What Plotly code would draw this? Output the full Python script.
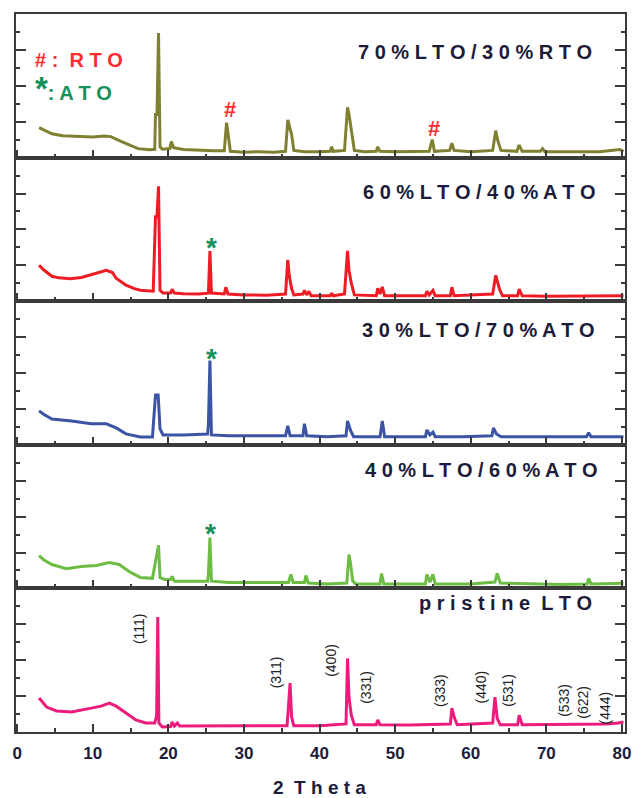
import plotly.graph_objects as go
from plotly.subplots import make_subplots

# ---------------- data ----------------
two_theta_7030 = [2.9,3.5,4.6,6,8,10,11.5,12.4,13.5,14.8,16,17.5,18.2,18.3,18.5,18.7,18.9,19.2,20.2,20.4,20.7,22,24,26,27.4,27.7,27.9,28.2,30,32,34,35.5,35.8,36.0,36.3,36.6,38,40,41.4,41.6,41.8,43.3,43.7,43.9,44.2,44.6,46,47.5,47.7,48,50,52,54.5,54.9,55.2,57.2,57.5,57.8,60,62.9,63.3,63.6,64,66.1,66.4,66.8,69.2,69.5,69.8,72,75,77,79.7,80.2]
int_7030 = [1.67,1.55,1.33,1.22,1.17,1.15,1.2,1.17,0.95,0.7,0.5,0.44,0.46,2.4,2.4,6.94,0.6,0.47,0.5,0.9,0.55,0.45,0.4,0.38,0.38,1.95,1.33,0.35,0.3,0.33,0.3,0.35,2.1,1.7,1.3,0.4,0.33,0.33,0.35,0.6,0.35,0.4,2.8,2.4,1.44,0.4,0.33,0.35,0.6,0.35,0.33,0.33,0.35,1.0,0.35,0.4,0.8,0.4,0.33,0.4,1.5,0.9,0.4,0.35,0.7,0.35,0.35,0.5,0.33,0.33,0.33,0.33,0.45,0.35]

two_theta_6040 = [2.9,3.5,4.6,5.5,7,8.5,10,11,11.8,12.6,13.1,14.4,15.5,16.3,18.0,18.3,18.5,18.7,18.9,19.3,20.3,20.5,20.8,22,24,25.3,25.5,25.7,27.4,27.6,27.9,30,33,35.5,35.8,36.0,36.3,36.6,37.8,38.0,38.3,38.6,38.9,41.4,41.6,41.8,43.3,43.7,43.9,44.2,44.6,47.5,47.7,48.0,48.3,48.6,54.0,54.2,54.5,55.0,55.3,57.3,57.5,57.8,62.9,63.3,63.5,63.8,64.2,66.2,66.4,66.8,70,75,79.5,80.2]
int_6040 = [2.0,1.75,1.39,1.3,1.25,1.32,1.5,1.6,1.72,1.6,1.28,0.89,0.7,0.61,0.56,4.7,4.7,6.4,0.6,0.45,0.45,0.67,0.45,0.42,0.4,0.45,2.8,0.45,0.4,0.78,0.4,0.35,0.33,0.4,2.3,1.4,0.7,0.35,0.4,0.6,0.35,0.55,0.3,0.3,0.45,0.3,0.4,2.8,1.7,1.0,0.35,0.3,0.72,0.4,0.8,0.3,0.3,0.55,0.35,0.6,0.3,0.3,0.78,0.3,0.4,1.44,1.17,0.67,0.3,0.3,0.67,0.3,0.28,0.28,0.28,0.3]

two_theta_3070 = [2.9,3.5,4.6,7.2,9.8,11.8,13.1,14.4,16.3,17.9,18.3,18.65,18.9,19.3,22,25.2,25.3,25.5,25.7,28,32,35.5,35.8,36.1,37.8,38.0,38.3,41,43.5,43.7,44.1,44.5,48.0,48.3,48.6,51,54.0,54.2,54.6,55.0,55.3,59,62.8,63.0,63.4,64,68,72,75.3,75.6,75.9,80.2]
int_3070 = [1.89,1.7,1.44,1.33,1.17,1.17,0.94,0.61,0.44,0.44,2.78,2.78,0.89,0.55,0.55,0.6,1.17,4.7,0.55,0.5,0.5,0.5,1.06,0.5,0.5,1.17,0.5,0.45,0.5,1.33,0.8,0.45,0.45,1.33,0.45,0.45,0.45,0.83,0.55,0.7,0.45,0.45,0.5,0.94,0.6,0.45,0.45,0.45,0.45,0.67,0.45,0.45]

two_theta_4060 = [2.9,3.5,4.6,6.5,8.5,10.5,12.2,13.5,14.8,16.3,17.9,18.3,18.7,18.9,19.5,20.3,20.5,20.8,23,25.2,25.3,25.5,25.7,28,32,35.9,36.2,36.5,38.0,38.2,38.5,41,43.6,43.9,44.1,44.4,44.8,48.0,48.2,48.5,54.0,54.2,54.6,55.0,55.3,60,63.2,63.5,63.9,68,72,75.4,75.6,75.9,80.2]
int_4060 = [1.83,1.6,1.33,1.1,1.22,1.28,1.44,1.33,0.94,0.61,0.56,1.4,2.4,0.61,0.5,0.5,0.67,0.4,0.39,0.4,0.78,2.83,0.4,0.33,0.33,0.33,0.78,0.33,0.33,0.72,0.3,0.25,0.3,1.89,1.39,0.4,0.25,0.25,0.83,0.25,0.25,0.78,0.35,0.78,0.25,0.25,0.35,0.83,0.3,0.25,0.22,0.25,0.56,0.25,0.28]

two_theta_lto = [2.9,3.9,5.2,7.2,9.8,11.1,12.2,13.1,14.4,15.7,17.0,18.2,18.45,18.6,18.75,19.2,20.3,20.5,20.8,21.2,21.5,25,30,35.7,35.9,36.1,36.3,36.6,40,43.5,43.7,43.9,44.2,44.6,47.5,47.7,48.0,52,57.3,57.5,57.8,58.2,62.9,63.2,63.5,63.9,66.2,66.4,66.8,70,75,78,79.5,80.2]
int_lto = [1.89,1.39,1.17,1.11,1.33,1.44,1.61,1.44,1.06,0.67,0.5,0.5,0.9,6.4,0.5,0.28,0.3,0.56,0.33,0.5,0.33,0.33,0.33,0.35,1.5,2.72,0.83,0.35,0.35,0.45,4.1,1.89,0.94,0.4,0.4,0.67,0.4,0.39,0.45,1.33,0.83,0.4,0.5,1.94,0.75,0.4,0.4,0.94,0.4,0.42,0.44,0.44,0.5,0.56]

sample_labels = ["7 0 % L T O / 3 0 % R T O", "6 0 % L T O / 4 0 % A T O",
                 "3 0 % L T O / 7 0 % A T O", "4 0 % L T O / 6 0 % A T O",
                 "p r i s t i n e\u00a0 L T O"]
line_colors = ["#808033", "#ee1c25", "#3b54a4", "#6dbd45", "#ec1c7c"]

hkl_labels = ["(111)", "(311)", "(400)", "(331)", "(333)", "(440)", "(531)", "(533)", "(622)", "(444)"]
hkl_pos = [16.1, 34.25, 41.6, 46.1, 55.9, 61.4, 65.0, 72.3, 74.8, 77.8]
hkl_y = [5.78, 3.33, 4.0, 2.5, 2.33, 2.5, 2.33, 1.78, 1.67, 1.33]

rto_marks_x = [28.1, 55.2]
rto_marks_y = [2.67, 1.61]
ato_marks = [(2, 25.75, 3.33), (3, 25.75, 5.17), (4, 25.6, 3.39)]

legend_rto = "#\u00a0:\u00a0 R T O"
legend_ato = "<span style='font-size:33px'>*</span>: A T O"

x_ticks = [0, 10, 20, 30, 40, 50, 60, 70, 80]
x_title = "2\u00a0 T h e t a"

series = [(two_theta_7030, int_7030), (two_theta_6040, int_6040), (two_theta_3070, int_3070),
          (two_theta_4060, int_4060), (two_theta_lto, int_lto)]

# ---------------- figure ----------------
fig = make_subplots(rows=5, cols=1, vertical_spacing=0)
for i, ((xs, ys), col) in enumerate(zip(series, line_colors)):
    fig.add_trace(go.Scatter(x=xs, y=ys, mode="lines", line=dict(color=col, width=3),
                             showlegend=False, hoverinfo="skip"), row=i + 1, col=1)

FRAME = "#3a3a3a"
TXT = "#1c1c3a"
FONT = "Liberation Sans, Arial"
for i in range(5):
    fig.update_xaxes(row=i + 1, col=1, range=[-0.15, 80.4], showgrid=False, zeroline=False,
                     showline=True, linecolor=FRAME, linewidth=2, mirror=True,
                     ticks="inside", ticklen=8, tickwidth=2, tickcolor=FRAME,
                     tickvals=x_ticks, ticktext=[str(v) for v in x_ticks],
                     minor=dict(ticks="inside", ticklen=4, tickwidth=2, tickcolor=FRAME, dtick=5, tick0=0),
                     showticklabels=(i == 4),
                     tickfont=dict(family=FONT, size=17, color=TXT, weight="bold"),
                     ticklabelstandoff=5)
    fig.update_yaxes(row=i + 1, col=1, range=[0, 8], showgrid=False, zeroline=False,
                     showline=True, linecolor=FRAME, linewidth=2, mirror="ticks",
                     ticks="inside", ticklen=10, tickwidth=2, tickcolor=FRAME, dtick=2, tick0=0,
                     minor=dict(ticks="inside", ticklen=4, tickwidth=2, tickcolor=FRAME, dtick=1, tick0=0),
                     showticklabels=False)

label_x = [60.5, 61.1, 61.0, 61.4, 64.6]
label_y = [5.89, 6.11, 6.39, 6.61, 7.17]
for i, t in enumerate(sample_labels):
    fig.add_annotation(x=label_x[i], y=label_y[i], xref=f"x{i+1 if i else ''}", yref=f"y{i+1 if i else ''}",
                       text=t, showarrow=False, xanchor="center", yanchor="middle",
                       font=dict(family=FONT, size=20, color=TXT, weight="bold"))

# legend-like text in top panel
fig.add_annotation(x=2.2, y=5.45, xref="x", yref="y", text=legend_rto, showarrow=False,
                   xanchor="left", yanchor="middle", borderpad=0,
                   font=dict(family=FONT, size=20, color="#ff2d2d", weight="bold"))
fig.add_annotation(x=2.2, y=3.85, xref="x", yref="y", text=legend_ato, showarrow=False,
                   xanchor="left", yanchor="middle", borderpad=0,
                   font=dict(family=FONT, size=20, color="#14905a", weight="bold"))

for xv, yv in zip(rto_marks_x, rto_marks_y):
    fig.add_annotation(x=xv, y=yv, xref="x", yref="y", text="#", showarrow=False,
                       font=dict(family=FONT, size=22, color="#ff2d2d", weight="bold"))
for r, xv, yv in ato_marks:
    fig.add_annotation(x=xv, y=yv - 0.35, xref=f"x{r}", yref=f"y{r}", text="*", showarrow=False,
                       font=dict(family=FONT, size=28, color="#14905a", weight="bold"))

for t, xv, yv in zip(hkl_labels, hkl_pos, hkl_y):
    fig.add_annotation(x=xv, y=yv, xref="x5", yref="y5", text=t, showarrow=False, textangle=-90,
                       font=dict(family=FONT, size=14, color="#222222"))

fig.add_annotation(x=0.498, y=-0.077, xref="paper", yref="paper", text=x_title, showarrow=False,
                   xanchor="center", yanchor="middle",
                   font=dict(family=FONT, size=19, color=TXT, weight="bold"))

fig.update_layout(width=643, height=798, margin=dict(l=14, r=13, t=12, b=66),
                  paper_bgcolor="white", plot_bgcolor="white", showlegend=False)

fig.write_html("out.html", config={"displayModeBar": False},
               post_script="document.body.style.margin='0';")
